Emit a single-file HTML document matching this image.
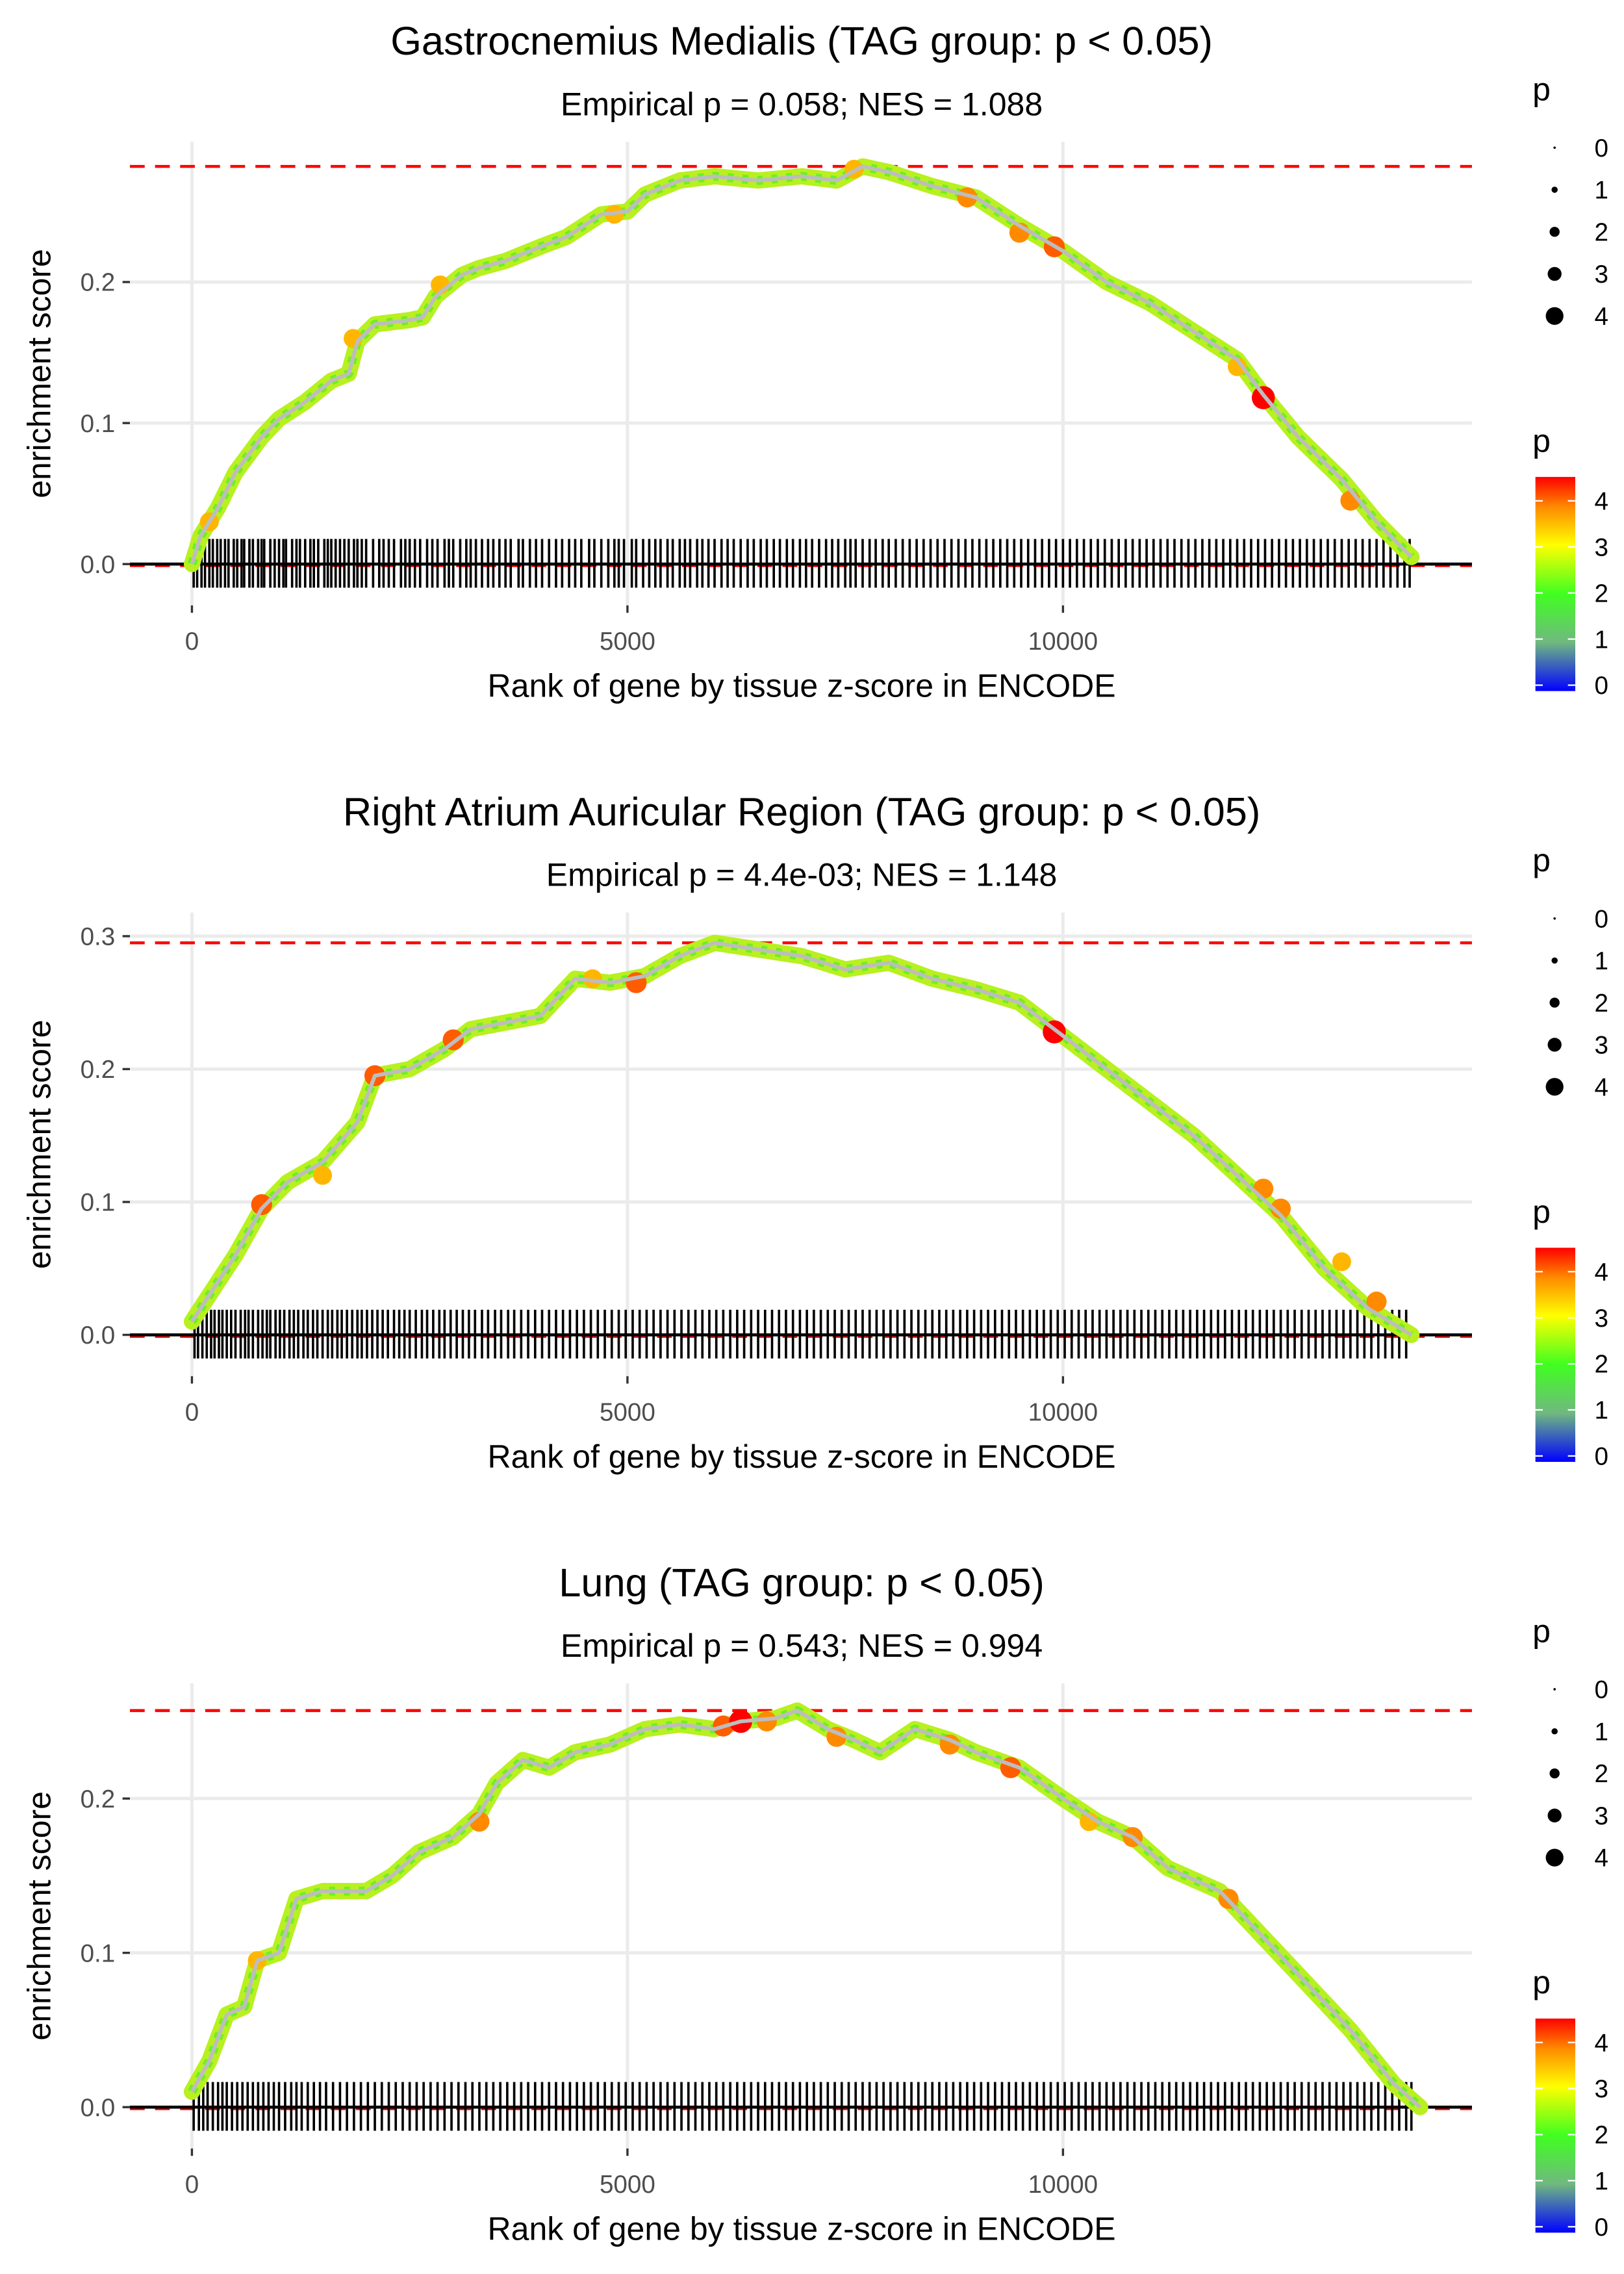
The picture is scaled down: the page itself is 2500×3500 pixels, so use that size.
<!DOCTYPE html>
<html><head><meta charset="utf-8"><style>
html,body{margin:0;padding:0;background:#fff;}
svg{display:block;font-family:"Liberation Sans",sans-serif;}
</style></head><body>
<svg id="chart" width="2500" height="3500" viewBox="0 0 1100 1540" xmlns="http://www.w3.org/2000/svg">
<defs><linearGradient id="cbar" x1="0" y1="1" x2="0" y2="0">
<stop offset="0" stop-color="#0000ff"/><stop offset="0.227" stop-color="#70b880"/><stop offset="0.455" stop-color="#40ff20"/><stop offset="0.682" stop-color="#ffff00"/><stop offset="0.86" stop-color="#ff8a00"/><stop offset="1" stop-color="#ff0000"/></linearGradient></defs>
</svg>
<script>
const p1Ranks=[0,100,300,500,800,1000,1300,1600,1800,1900,2100,2500,2650,2800,3000,3100,3300,3600,4000,4300,4500,4700,5000,5200,5600,6000,6500,7000,7400,7700,8000,8500,9000,9500,10000,10500,11000,11500,12000,12300,12700,13200,13600,14000];
const p1ES=[0,0.02,0.04,0.065,0.09,0.103,0.115,0.13,0.135,0.158,0.17,0.173,0.175,0.19,0.2,0.205,0.21,0.215,0.225,0.232,0.24,0.248,0.25,0.262,0.272,0.275,0.272,0.275,0.272,0.282,0.278,0.268,0.26,0.24,0.222,0.2,0.185,0.165,0.145,0.12,0.09,0.06,0.03,0.005];
const p1HiRanks=[200,1850,2850,4850,7600,8900,9500,9900,12000,12300,13300];
const p1HiES=[0.03,0.16,0.198,0.248,0.28,0.26,0.235,0.225,0.14,0.118,0.045];
const p1HiP=[3.5,3.5,3.5,3.5,3.5,3.8,3.8,4,3.5,4.5,3.8];
const p1Rug=[20,60,110,150,200,240,290,330,380,420,480,520,570,600,660,700,760,800,830,900,950,1000,1050,1080,1150,1200,1240,1300,1360,1400,1450,1520,1560,1600,1650,1700,1750,1800,1860,1900,1950,2000,2080,2150,2200,2260,2320,2400,2450,2500,2560,2620,2700,2760,2820,2900,2950,3000,3080,3150,3200,3260,3330,3400,3460,3530,3600,3660,3750,3800,3880,3950,4020,4100,4180,4250,4330,4400,4470,4560,4620,4700,4780,4850,4900,4960,5050,5100,5180,5250,5320,5380,5460,5520,5600,5660,5720,5800,5860,5930,6000,6080,6150,6220,6300,6380,6450,6530,6600,6680,6750,6830,6900,6980,7050,7120,7200,7280,7350,7420,7500,7560,7620,7700,7780,7850,7930,8000,8080,8160,8240,8320,8400,8480,8560,8640,8720,8800,8880,8960,9040,9120,9200,9280,9360,9440,9520,9600,9680,9760,9840,9920,10000,10080,10160,10240,10320,10400,10480,10560,10640,10720,10800,10880,10960,11040,11120,11200,11280,11360,11440,11520,11600,11680,11760,11840,11920,12000,12080,12160,12240,12320,12400,12480,12560,12640,12720,12800,12880,12960,13040,13120,13200,13280,13360,13440,13520,13600,13680,13760,13840,13920,13980];
const p2Ranks=[0,200,500,800,1100,1500,1900,2100,2500,2900,3200,3600,4000,4400,4800,5200,5600,6000,6500,7000,7500,8000,8500,9000,9500,10000,10500,11000,11500,12000,12500,13000,13500,14000];
const p2ES=[0.01,0.03,0.06,0.095,0.115,0.13,0.16,0.195,0.2,0.215,0.23,0.235,0.24,0.268,0.265,0.27,0.285,0.295,0.29,0.285,0.275,0.28,0.268,0.26,0.25,0.225,0.2,0.175,0.15,0.12,0.09,0.05,0.02,0];
const p2HiRanks=[800,1500,2100,3000,4600,5100,9900,12300,12500,13200,13600];
const p2HiES=[0.098,0.12,0.195,0.222,0.268,0.265,0.228,0.11,0.095,0.055,0.025];
const p2HiP=[4,3.5,4,4,3.5,4,4.5,3.8,3.8,3.5,3.8];
const p2Rug=[30,70,120,170,220,260,310,350,400,450,500,560,610,650,700,760,810,860,900,960,1010,1060,1120,1170,1220,1280,1330,1390,1440,1500,1560,1610,1670,1720,1780,1840,1900,1950,2010,2070,2130,2190,2250,2320,2380,2440,2500,2570,2640,2700,2770,2840,2900,2970,3040,3110,3180,3250,3330,3400,3480,3550,3630,3700,3780,3860,3940,4020,4100,4180,4260,4340,4420,4500,4580,4660,4740,4820,4900,4980,5060,5140,5220,5300,5380,5460,5540,5620,5700,5780,5860,5940,6020,6100,6180,6260,6340,6420,6500,6580,6660,6740,6820,6900,6980,7060,7140,7220,7300,7380,7460,7540,7620,7700,7780,7860,7940,8020,8100,8180,8260,8340,8420,8500,8580,8660,8740,8820,8900,8980,9060,9140,9220,9300,9380,9460,9540,9620,9700,9780,9860,9940,10020,10100,10180,10260,10340,10420,10500,10580,10660,10740,10820,10900,10980,11060,11140,11220,11300,11380,11460,11540,11620,11700,11780,11860,11940,12020,12100,12180,12260,12340,12420,12500,12580,12660,12740,12820,12900,12980,13060,13140,13220,13300,13380,13460,13540,13620,13700,13780,13860,13940];
const p3Ranks=[0,200,400,600,750,1000,1200,1500,2000,2300,2600,3000,3300,3500,3800,4100,4400,4800,5200,5600,6000,6300,6700,6950,7300,7600,7900,8300,8700,9000,9500,10000,10400,10800,11200,11800,12300,12800,13300,13800,14100];
const p3ES=[0.01,0.03,0.06,0.065,0.095,0.1,0.135,0.14,0.14,0.15,0.165,0.175,0.19,0.21,0.225,0.22,0.23,0.235,0.245,0.248,0.245,0.25,0.252,0.257,0.245,0.238,0.23,0.245,0.238,0.23,0.22,0.2,0.185,0.175,0.155,0.14,0.11,0.08,0.05,0.015,0];
const p3HiRanks=[750,3300,6100,6300,6600,7400,8700,9400,10300,10800,11900];
const p3HiES=[0.095,0.185,0.247,0.25,0.25,0.24,0.235,0.22,0.185,0.175,0.135];
const p3HiP=[3.5,3.8,4,4.5,3.8,3.8,3.8,4,3.5,3.8,3.8];
const p3Rug=[20,80,130,180,240,300,350,400,460,520,580,640,700,760,820,880,940,1000,1070,1140,1200,1260,1330,1400,1470,1540,1620,1700,1780,1860,1940,2020,2100,2180,2260,2340,2420,2500,2580,2660,2740,2820,2900,2980,3060,3140,3220,3300,3380,3460,3540,3620,3700,3780,3860,3940,4020,4100,4180,4260,4340,4420,4500,4580,4660,4740,4820,4900,4980,5060,5140,5220,5300,5380,5460,5540,5620,5700,5780,5860,5940,6020,6100,6180,6260,6340,6420,6500,6580,6660,6740,6820,6900,6980,7060,7140,7220,7300,7380,7460,7540,7620,7700,7780,7860,7940,8020,8100,8180,8260,8340,8420,8500,8580,8660,8740,8820,8900,8980,9060,9140,9220,9300,9380,9460,9540,9620,9700,9780,9860,9940,10020,10100,10180,10260,10340,10420,10500,10580,10660,10740,10820,10900,10980,11060,11140,11220,11300,11380,11460,11540,11620,11700,11780,11860,11940,12020,12100,12180,12260,12340,12420,12500,12580,12660,12740,12820,12900,12980,13060,13140,13220,13300,13380,13460,13540,13620,13700,13780,13860,13940,14000];
const xTicks=[0,5000,10000];
const sizeLegend=[0,1,2,3,4];

const svg=document.getElementById('chart');
const NS='http://www.w3.org/2000/svg';
function mk(tag,attrs,parent,text){const e=document.createElementNS(NS,tag);for(const k in attrs)e.setAttribute(k,attrs[k]);if(text!==undefined)e.textContent=text;(parent||svg).appendChild(e);return e;}
function col(p){const st=[[0,[0,0,255]],[1,[112,184,128]],[2,[64,255,32]],[3,[255,255,0]],[3.8,[255,138,0]],[4.4,[255,0,0]]];
 p=Math.max(0,Math.min(4.4,p));for(let i=1;i<st.length;i++){if(p<=st[i][0]){const a=st[i-1],b=st[i],t=(p-a[0])/(b[0]-a[0]);const c=a[1].map((v,j)=>Math.round(v+(b[1][j]-v)*t));return 'rgb('+c.join(',')+')';}}return 'red';}
function rad(p){return 1.3+1.45*p;}
const xScale=r=>130+r*295/5000;
const panels=[
 {off:0,title:'Gastrocnemius Medialis (TAG group: p < 0.05)',sub:'Empirical p = 0.058; NES = 1.088',y0:382,per:955,yTicks:[0,0.1,0.2],ranks:p1Ranks,es:p1ES,hr:p1HiRanks,he:p1HiES,hp:p1HiP,rug:p1Rug,top:96,bot:410},
 {off:522,title:'Right Atrium Auricular Region (TAG group: p < 0.05)',sub:'Empirical p = 4.4e-03; NES = 1.148',y0:904,per:900,yTicks:[0,0.1,0.2,0.3],ranks:p2Ranks,es:p2ES,hr:p2HiRanks,he:p2HiES,hp:p2HiP,rug:p2Rug,top:618,bot:932},
 {off:1044,title:'Lung (TAG group: p < 0.05)',sub:'Empirical p = 0.543; NES = 0.994',y0:1427,per:1045,yTicks:[0,0.1,0.2],ranks:p3Ranks,es:p3ES,hr:p3HiRanks,he:p3HiES,hp:p3HiP,rug:p3Rug,top:1140,bot:1455}];
panels.forEach((P,i)=>{
 const g=mk('g',{});
 
 
 const yS=v=>P.y0-v*P.per;
 const t=mk('text',{x:543,y:37+P.off,'text-anchor':'middle','font-size':27,fill:'#000'},g,P.title);
 
 
 const s=mk('text',{x:543,y:78+P.off,'text-anchor':'middle','font-size':22,fill:'#000'},g,P.sub);
 
 
 xTicks.forEach(v=>{const l=mk('line',{x1:xScale(v),x2:xScale(v),y1:P.top,y2:P.bot,stroke:'#ebebeb','stroke-width':2.2},g);
  
  });
 P.yTicks.forEach(v=>{const l=mk('line',{x1:88,x2:997,y1:yS(v),y2:yS(v),stroke:'#ebebeb','stroke-width':2.2},g);
  
  
  mk('line',{x1:83,x2:88,y1:yS(v),y2:yS(v),stroke:'#333','stroke-width':1.5},g);
  const tl=mk('text',{x:78,y:yS(v)+6,'text-anchor':'end','font-size':17,fill:'#4d4d4d'},g,v.toFixed(1));
  
  });
 xTicks.forEach(v=>{mk('line',{x1:xScale(v),x2:xScale(v),y1:P.bot,y2:P.bot+5,stroke:'#333','stroke-width':1.5},g);
  const tl=mk('text',{x:xScale(v),y:P.bot+30,'text-anchor':'middle','font-size':17,fill:'#4d4d4d'},g,String(v));
  
  });
 const xt=mk('text',{x:543,y:P.bot+62,'text-anchor':'middle','font-size':22,fill:'#000'},g,'Rank of gene by tissue z-score in ENCODE');
 
 
 const cy=(P.top+P.bot)/2;
 const yt=mk('text',{x:0,y:0,transform:'translate(34,'+cy+') rotate(-90)','text-anchor':'middle','font-size':22,fill:'#000'},g,'enrichment score');
 
 
 const maxES=Math.max(...P.es);
 const d1=mk('line',{x1:88,x2:997,y1:yS(maxES),y2:yS(maxES),stroke:'#ff0000','stroke-width':2,'stroke-dasharray':'10 7'},g);
 
 
 mk('line',{x1:88,x2:997,y1:yS(0)+1,y2:yS(0)+1,stroke:'#ff0000','stroke-width':2,'stroke-dasharray':'10 7'},g);
 const rg=mk('g',{stroke:'#000','stroke-width':1.6},g);
 
 
 P.rug.forEach(r=>{mk('line',{x1:xScale(r),x2:xScale(r),y1:P.y0-17,y2:P.y0+16},rg);});
 const z=mk('line',{x1:88,x2:997,y1:yS(0),y2:yS(0),stroke:'#000','stroke-width':2},g);
 
 
 const pts=P.ranks.map((r,k)=>xScale(r)+','+yS(P.es[k])).join(' ');
 const band=mk('polyline',{points:pts,fill:'none',stroke:'#b8f020','stroke-width':11,'stroke-linejoin':'round','stroke-linecap':'round'},g);
 
 
 mk('polyline',{points:pts,fill:'none',stroke:'#6cf020','stroke-width':6,'stroke-linejoin':'round','stroke-dasharray':'4 6'},g);
 P.hr.forEach((r,k)=>{const c=mk('circle',{cx:xScale(r),cy:yS(P.he[k]),r:rad(P.hp[k]),fill:col(P.hp[k])},g);
  
  });
 const line=mk('polyline',{points:pts,fill:'none',stroke:'#bdbdbd','stroke-width':2.6,'stroke-linejoin':'round'},g);
 
 
 const lg=mk('g',{},g);
 
 
 mk('text',{x:1038,y:68+P.off,'font-size':22,fill:'#000'},lg,'p');
 sizeLegend.forEach((v,k)=>{mk('circle',{cx:1053,cy:100+k*28.5+P.off,r:0.8+1.3*v,fill:'#000'},lg);
  mk('text',{x:1080,y:106+k*28.5+P.off,'font-size':17,fill:'#000'},lg,String(v));});
 const cg=mk('g',{},g);
 
 
 mk('text',{x:1038,y:306+P.off,'font-size':22,fill:'#000'},cg,'p');
 mk('rect',{x:1040,y:323+P.off,width:27,height:145,fill:'url(#cbar)'},cg);
 [0,1,2,3,4].forEach(v=>{const y=464-v*31.2+P.off;
  mk('line',{x1:1040,x2:1045,y1:y,y2:y,stroke:'#fff','stroke-width':1},cg);
  mk('line',{x1:1062,x2:1067,y1:y,y2:y,stroke:'#fff','stroke-width':1},cg);
  mk('text',{x:1080,y:y+6,'font-size':17,fill:'#000'},cg,String(v));});
});
</script>
</body></html>
